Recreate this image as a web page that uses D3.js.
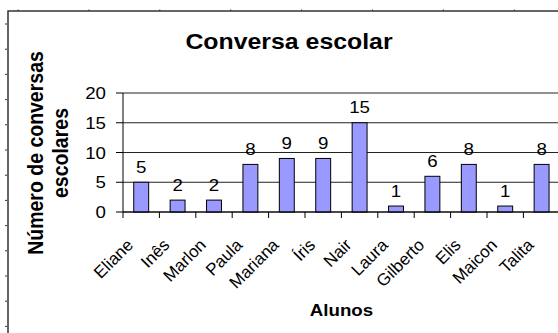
<!DOCTYPE html>
<html>
    <head>
        <meta charset="utf-8">
        <script src="https://d3js.org/d3.v7.min.js"></script>
        <style>
            body { margin:0; background:#fff; }
            text { font-family: Arial, "Liberation Sans", sans-serif; fill:#000; }
        </style>
    </head>
    <body>
        <svg id="graph" width="558" height="333"></svg>
        <script>
            // data
            const alunos = ["Eliane","Inês","Marlon","Paula","Mariana","Íris","Nair","Laura","Gilberto","Elis","Maicon","Talita"];
            const conversas = [5,2,2,8,9,9,15,1,6,8,1,8];
            const yTicks = [0,5,10,15,20];
            const titulo = "Conversa escolar";
            const eixoX = "Alunos";
            const eixoY = ["Número de conversas","escolares"];

            const svg = d3.select("#graph");
            const sx = 1.1; // the picture is a bit wider than tall

            // frame round the object, with its little ruler dots
            const frame = svg.append("g");
            frame.append("path").attr("d","M8,333 L8,11 L558,11")
                 .attr("fill","none").attr("stroke","#333").attr("stroke-width",1.5);
            frame.selectAll("line.ly").data(d3.range(24,333,25.2)).join("line")
                 .attr("class","ly").attr("x1",5).attr("x2",7)
                 .attr("y1",d=>d).attr("y2",d=>d).attr("stroke","#333");
            frame.selectAll("line.lx").data(d3.range(18,558,70.9)).join("line")
                 .attr("class","lx").attr("x1",d=>d).attr("x2",d=>d)
                 .attr("y1",9.5).attr("y2",11).attr("stroke","#333");

            const x = d3.scaleBand().domain(alunos).range([123,559.8])
                        .paddingInner(0.59).paddingOuter(0.295);
            const y = d3.scaleLinear().domain([0,20]).range([212,93]);
            const step = x.step();
            const left = x.range()[0], right = x.range()[1];

            //gridlines
            svg.append("g").selectAll("line").data(yTicks).join("line")
               .attr("x1",left).attr("x2",right)
               .attr("y1",d=>y(d)).attr("y2",d=>y(d))
               .attr("stroke","#222").attr("stroke-width",1);

            //bars
            svg.append("g").selectAll("rect").data(conversas).join("rect")
               .attr("x",(d,i)=>x(alunos[i]))
               .attr("y",d=>y(d))
               .attr("width",x.bandwidth())
               .attr("height",d=>y(0)-y(d))
               .attr("fill","#9999ff").attr("stroke","#000").attr("stroke-width",1);

            //value labels
            svg.append("g").selectAll("text").data(conversas).join("text")
               .attr("transform",(d,i)=>`translate(${x(alunos[i])+x.bandwidth()/2},${y(d)-9.5}) scale(${sx},1)`)
               .attr("text-anchor","middle").style("font-size","17px")
               .text(d=>d);

            //axes
            const ax = svg.append("g").attr("stroke","#000").attr("stroke-width",1);
            ax.append("line").attr("x1",left).attr("x2",left).attr("y1",y(20)).attr("y2",y(0));
            ax.append("line").attr("x1",left).attr("x2",right).attr("y1",y(0)).attr("y2",y(0));
            ax.selectAll("line.ty").data(yTicks).join("line").attr("class","ty")
              .attr("x1",left-7).attr("x2",left).attr("y1",d=>y(d)).attr("y2",d=>y(d));
            ax.selectAll("line.tx").data(d3.range(alunos.length+1)).join("line").attr("class","tx")
              .attr("x1",i=>left+i*step).attr("x2",i=>left+i*step)
              .attr("y1",y(0)).attr("y2",y(0)+6);

            svg.append("g").selectAll("text").data(yTicks).join("text")
               .attr("transform",d=>`translate(106,${y(d)}) scale(${sx},1)`)
               .attr("text-anchor","end").attr("dy","0.36em").style("font-size","17px")
               .text(d=>d);

            svg.append("g").selectAll("text").data(alunos).join("text")
               .attr("transform",d=>`translate(${x(d)+x.bandwidth()/2-7},${y(0)+34}) rotate(-45)`)
               .attr("text-anchor","end").style("font-size","17px")
               .text(d=>d);

            //titles
            svg.append("text").attr("transform",`translate(289,49) scale(1.13,1)`)
               .attr("text-anchor","middle").style("font-size","22px").style("font-weight","bold")
               .text(titulo);
            svg.append("text").attr("transform",`translate(341.5,316) scale(${sx},1)`)
               .attr("text-anchor","middle").style("font-size","17px").style("font-weight","bold")
               .text(eixoX);
            svg.append("g").selectAll("text").data(eixoY).join("text")
               .attr("transform",(d,i)=>`translate(${43+i*25},153) scale(${sx},1) rotate(-90)`)
               .attr("text-anchor","middle").style("font-size","19.5px").style("font-weight","bold")
               .text(d=>d);
        </script>
    </body>
</html>
